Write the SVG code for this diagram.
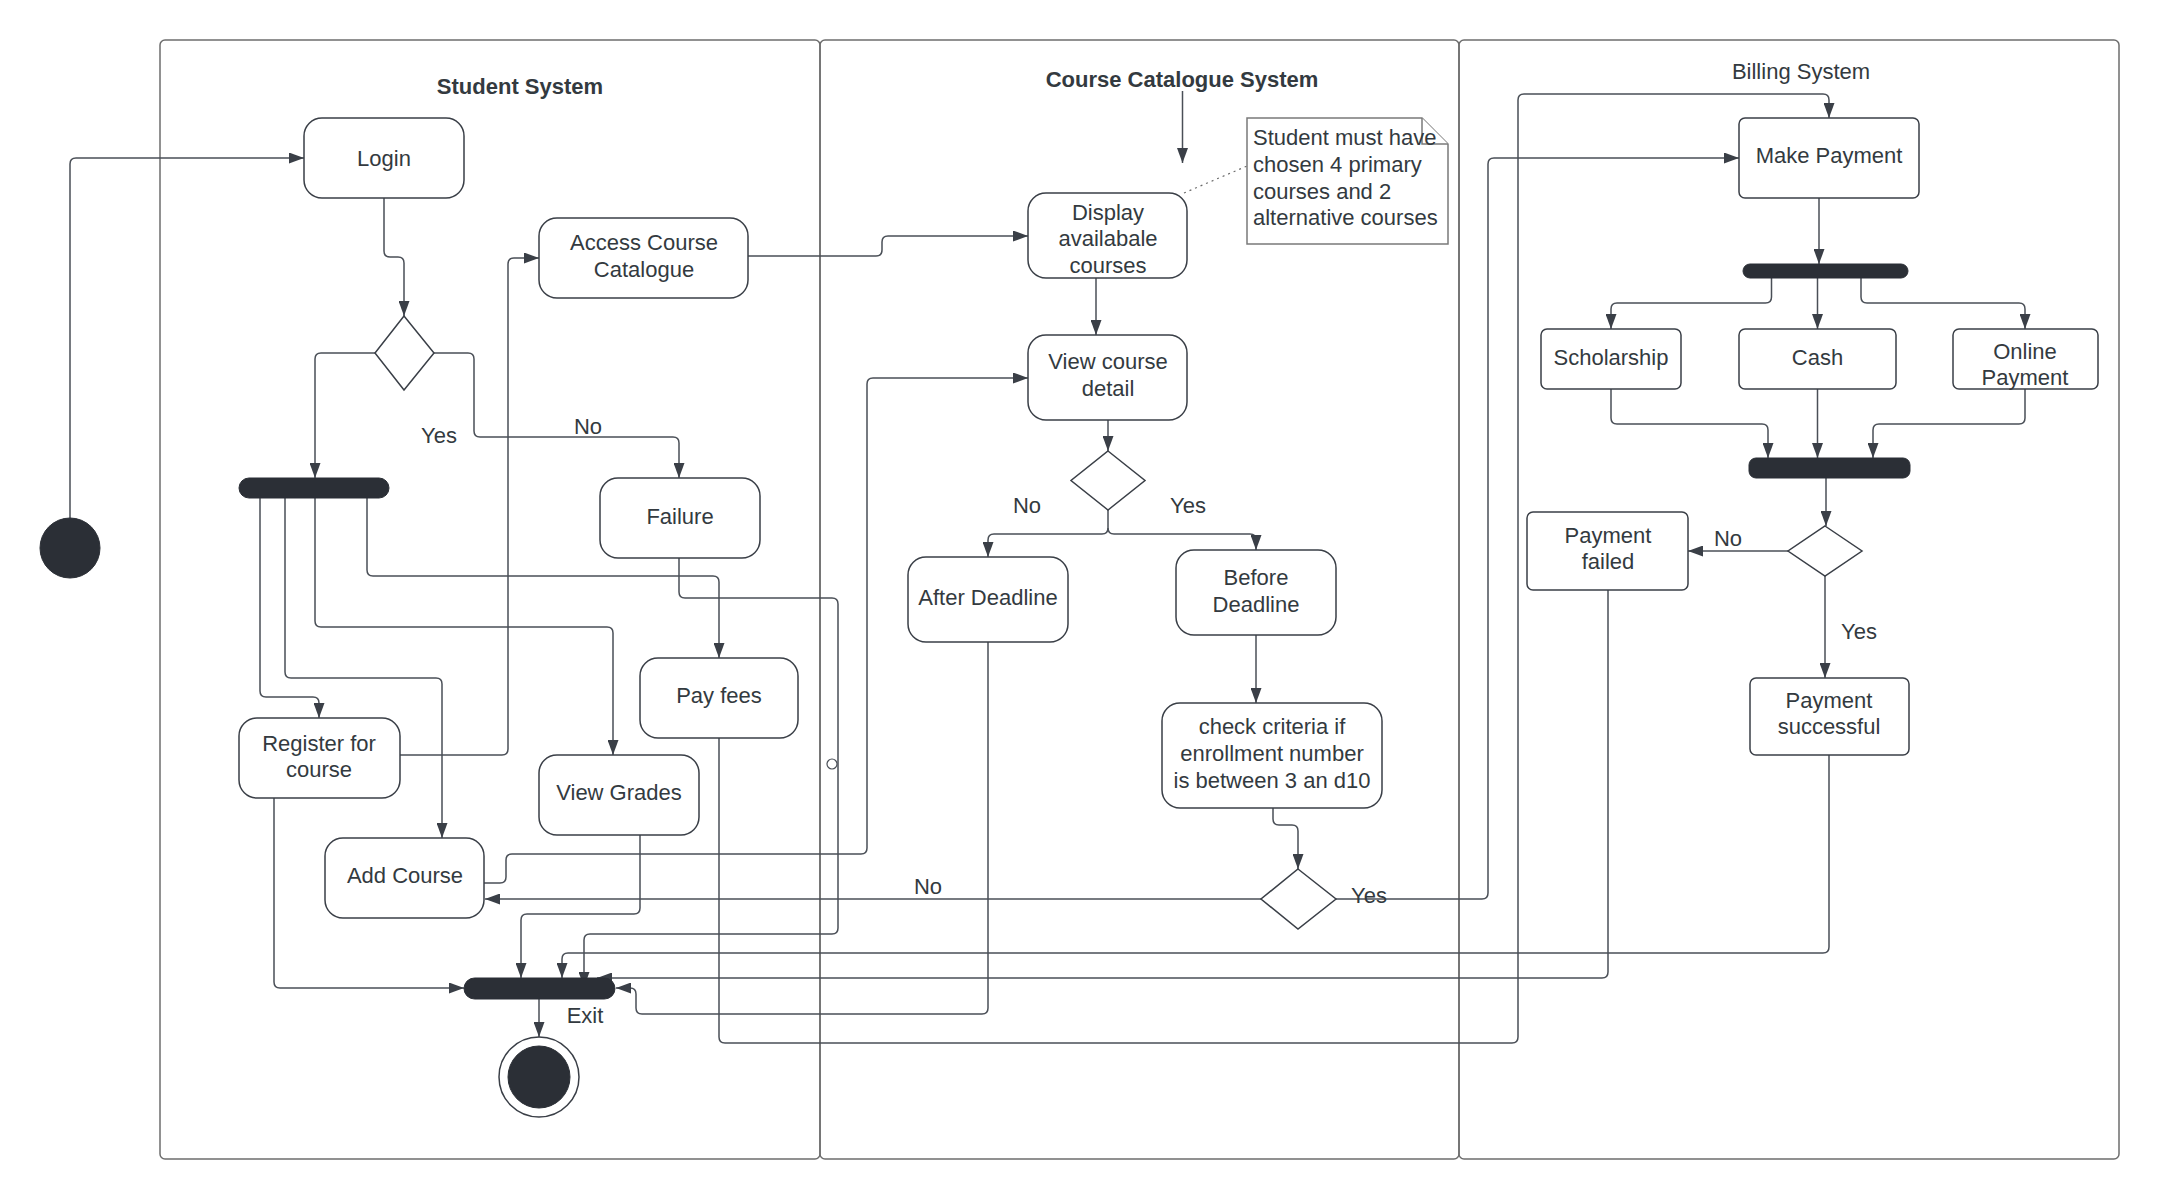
<svg xmlns="http://www.w3.org/2000/svg" width="2160" height="1200" viewBox="0 0 2160 1200">
  <style>
    .lane { fill: none; stroke: #6e6e6e; stroke-width: 1.5; }
    .act { fill: #ffffff; stroke: #3a3f47; stroke-width: 1.5; }
    .solid { fill: #2b2f36; stroke: #2b2f36; stroke-width: 1; }
    .note { fill: #ffffff; stroke: #7a7a7a; stroke-width: 1.5; }
    .edge { fill: none; stroke: #4a4f57; stroke-width: 1.5; }
    .arrow { marker-end: url(#head); }
    .dot { fill: none; stroke: #6a6a6a; stroke-width: 1.2; stroke-dasharray: 2 4; }
    text { font-family: "Liberation Sans", Arial, sans-serif; font-size: 22px; fill: #333a40; }
    .c { text-anchor: middle; }
    .title { font-weight: bold; }
  </style>
  <defs>
    <marker id="head" viewBox="0 0 15 11" refX="15" refY="5.5" markerWidth="15" markerHeight="11" markerUnits="userSpaceOnUse" orient="auto">
      <path d="M0,0 L15,5.5 L0,11 Z" fill="#3a3f47"/>
    </marker>
  </defs>

  <rect width="2160" height="1200" fill="#ffffff"/>

  <!-- swimlanes -->
  <g id="lanes">
    <rect class="lane" x="160" y="40" width="660" height="1119" rx="5"/>
    <rect class="lane" x="820" y="40" width="639" height="1119" rx="5"/>
    <rect class="lane" x="1459" y="40" width="660" height="1119" rx="5"/>
    <text class="c title" x="520" y="94">Student System</text>
    <text class="c title" x="1182" y="87">Course Catalogue System</text>
    <text class="c" x="1801" y="79">Billing System</text>
  </g>

  <!-- connectors -->
  <g id="connectors">
    <path class="edge arrow" d="M70,518 V164 Q70,158 76,158 H304"/>
    <path class="edge arrow" d="M384,198 V251 Q384,257 390,257 H398 Q404,257 404,263 V316"/>
    <path class="edge arrow" d="M375,353 H321 Q315,353 315,359 V478"/>
    <path class="edge arrow" d="M434,353 H468 Q474,353 474,359 V431 Q474,437 480,437 H673 Q679,437 679,443 V478"/>
    <path class="edge arrow" d="M260,498 V691 Q260,697 266,697 H313 Q319,697 319,703 V718"/>
    <path class="edge arrow" d="M285,498 V672 Q285,678 291,678 H436 Q442,678 442,684 V838"/>
    <path class="edge arrow" d="M315,498 V621 Q315,627 321,627 H607 Q613,627 613,633 V755"/>
    <path class="edge arrow" d="M367,498 V570 Q367,576 373,576 H713 Q719,576 719,582 V658"/>
    <path class="edge arrow" d="M400,755 H502 Q508,755 508,749 V264 Q508,258 514,258 H539"/>
    <path class="edge arrow" d="M748,256 H876 Q882,256 882,250 V242 Q882,236 888,236 H1028"/>
    <path class="edge arrow" d="M679,558 V592 Q679,598 685,598 H832 Q838,598 838,604 V928 Q838,934 832,934 H590 Q584,934 584,940 V987"/>
    <circle cx="832" cy="764" r="5" fill="#ffffff" stroke="#4a4f57" stroke-width="1.2"/>
    <path class="edge arrow" d="M484,883 H500 Q506,883 506,877 V860 Q506,854 512,854 H861 Q867,854 867,848 V384 Q867,378 873,378 H1028"/>
    <path class="edge arrow" d="M988,642 V1008 Q988,1014 982,1014 H642 Q636,1014 636,1008 V994 Q636,988 630,988 H616"/>
    <path class="edge arrow" d="M719,738 V1037 Q719,1043 725,1043 H1512 Q1518,1043 1518,1037 V100 Q1518,94 1524,94 H1823 Q1829,94 1829,100 V118"/>
    <path class="edge arrow" d="M1182.5,91 V163"/>
    <path class="dot" d="M1184,193 L1247,166"/>
    <path class="edge arrow" d="M1096,278 V335"/>
    <path class="edge arrow" d="M1108,420 V451"/>
    <path class="edge arrow" d="M1108,510 V528 Q1108,534 1102,534 H994 Q988,534 988,540 V557"/>
    <path class="edge arrow" d="M1108,528 Q1108,534 1114,534 H1250 Q1256,534 1256,540 V550"/>
    <path class="edge arrow" d="M1256,635 V703"/>
    <path class="edge arrow" d="M1273,808 V819 Q1273,825 1279,825 H1292 Q1298,825 1298,831 V869"/>
    <path class="edge arrow" d="M1261,899 H485"/>
    <path class="edge arrow" d="M1336,899 H1482 Q1488,899 1488,893 V164 Q1488,158 1494,158 H1739"/>
    <path class="edge arrow" d="M1819,198 V264"/>
    <path class="edge arrow" d="M1771.5,278 V297 Q1771.5,303 1765.5,303 H1617 Q1611,303 1611,309 V329"/>
    <path class="edge arrow" d="M1817.5,278 V329"/>
    <path class="edge arrow" d="M1861,278 V297 Q1861,303 1867,303 H2019 Q2025,303 2025,309 V329"/>
    <path class="edge arrow" d="M1611,389 V418 Q1611,424 1617,424 H1762 Q1768,424 1768,430 V458"/>
    <path class="edge arrow" d="M1817.5,389 V458"/>
    <path class="edge arrow" d="M2025,389 V418 Q2025,424 2019,424 H1879 Q1873,424 1873,430 V458"/>
    <path class="edge arrow" d="M1826,478 V526"/>
    <path class="edge arrow" d="M1788,551 H1688"/>
    <path class="edge arrow" d="M1825,576 V678"/>
    <path class="edge arrow" d="M1829,755 V947 Q1829,953 1823,953 H568 Q562,953 562,959 V978"/>
    <path class="edge arrow" d="M1608,590 V972 Q1608,978 1602,978 H597"/>
    <path class="edge arrow" d="M640,835 V908 Q640,914 634,914 H527 Q521,914 521,920 V978"/>
    <path class="edge arrow" d="M274,798 V982 Q274,988 280,988 H464"/>
    <path class="edge arrow" d="M539,999 V1037"/>
  </g>

  <!-- edge labels -->
  <g id="labels">
    <text class="c" x="439" y="442.5">Yes</text>
    <text class="c" x="588" y="433.5">No</text>
    <text class="c" x="1027" y="513">No</text>
    <text class="c" x="1188" y="513">Yes</text>
    <text class="c" x="928" y="894">No</text>
    <text x="1351" y="903">Yes</text>
    <text class="c" x="1728" y="546">No</text>
    <text class="c" x="1859" y="639">Yes</text>
    <text class="c" x="585" y="1023">Exit</text>
  </g>

  <!-- Student System -->
  <g id="start"><circle cx="70" cy="548" r="30" class="solid"/></g>
  <g id="login">
    <rect class="act" x="304" y="118" width="160" height="80" rx="18"/>
    <text class="c" x="384" y="166">Login</text>
  </g>
  <g id="access-catalogue">
    <rect class="act" x="539" y="218" width="209" height="80" rx="18"/>
    <text class="c" x="644" y="250">Access Course</text>
    <text class="c" x="644" y="276.5">Catalogue</text>
  </g>
  <g id="login-check"><path class="act" d="M404,316 L434,353 L404,390 L375,353 Z"/></g>
  <g id="student-fork"><rect class="solid" x="239" y="478" width="150" height="20" rx="10"/></g>
  <g id="failure">
    <rect class="act" x="600" y="478" width="160" height="80" rx="18"/>
    <text class="c" x="680" y="524">Failure</text>
  </g>
  <g id="pay-fees">
    <rect class="act" x="640" y="658" width="158" height="80" rx="18"/>
    <text class="c" x="719" y="703">Pay fees</text>
  </g>
  <g id="register">
    <rect class="act" x="239" y="718" width="161" height="80" rx="18"/>
    <text class="c" x="319" y="751">Register for</text>
    <text class="c" x="319" y="777">course</text>
  </g>
  <g id="view-grades">
    <rect class="act" x="539" y="755" width="160" height="80" rx="18"/>
    <text class="c" x="619" y="800">View Grades</text>
  </g>
  <g id="add-course">
    <rect class="act" x="325" y="838" width="159" height="80" rx="18"/>
    <text class="c" x="405" y="883">Add Course</text>
  </g>
  <g id="exit-join"><rect class="solid" x="464" y="978" width="151" height="21" rx="10.5"/></g>
  <g id="final">
    <circle cx="539" cy="1077" r="40" fill="#ffffff" stroke="#3a3f47" stroke-width="1.5"/>
    <circle cx="539" cy="1077" r="31" class="solid"/>
  </g>

  <!-- Course Catalogue System -->
  <g id="display-courses">
    <rect class="act" x="1028" y="193" width="159" height="85" rx="18"/>
    <text class="c" x="1108" y="219.5">Display</text>
    <text class="c" x="1108" y="246">availabale</text>
    <text class="c" x="1108" y="272.5">courses</text>
  </g>
  <g id="note">
    <path class="note" d="M1247,118 H1422 L1448,144 V244 H1247 Z"/>
    <path class="note" d="M1422,118 V144 H1448"/>
    <text x="1253" y="145">Student must have</text>
    <text x="1253" y="172">chosen 4 primary</text>
    <text x="1253" y="198.5">courses and 2</text>
    <text x="1253" y="225">alternative courses</text>
  </g>
  <g id="view-detail">
    <rect class="act" x="1028" y="335" width="159" height="85" rx="18"/>
    <text class="c" x="1108" y="369">View course</text>
    <text class="c" x="1108" y="396">detail</text>
  </g>
  <g id="deadline-check"><path class="act" d="M1108,451 L1145,480.5 L1108,510 L1071,480.5 Z"/></g>
  <g id="after-deadline">
    <rect class="act" x="908" y="557" width="160" height="85" rx="18"/>
    <text class="c" x="988" y="605">After Deadline</text>
  </g>
  <g id="before-deadline">
    <rect class="act" x="1176" y="550" width="160" height="85" rx="18"/>
    <text class="c" x="1256" y="585">Before</text>
    <text class="c" x="1256" y="611.5">Deadline</text>
  </g>
  <g id="check-criteria">
    <rect class="act" x="1162" y="703" width="220" height="105" rx="18"/>
    <text class="c" x="1272" y="734">check criteria if</text>
    <text class="c" x="1272" y="761">enrollment number</text>
    <text class="c" x="1272" y="788">is between 3 an d10</text>
  </g>
  <g id="enrollment-check"><path class="act" d="M1298,869 L1336,899 L1298,929 L1261,899 Z"/></g>

  <!-- Billing System -->
  <g id="make-payment">
    <rect class="act" x="1739" y="118" width="180" height="80" rx="6"/>
    <text class="c" x="1829" y="163">Make Payment</text>
  </g>
  <g id="billing-fork"><rect class="solid" x="1743" y="264" width="165" height="14" rx="7"/></g>
  <g id="scholarship">
    <rect class="act" x="1541" y="329" width="140" height="60" rx="6"/>
    <text class="c" x="1611" y="364.5">Scholarship</text>
  </g>
  <g id="cash">
    <rect class="act" x="1739" y="329" width="157" height="60" rx="6"/>
    <text class="c" x="1817.5" y="364.5">Cash</text>
  </g>
  <g id="online-payment">
    <rect class="act" x="1953" y="329" width="145" height="60" rx="6"/>
    <text class="c" x="2025" y="359">Online</text>
    <text class="c" x="2025" y="385">Payment</text>
  </g>
  <g id="billing-join"><rect class="solid" x="1749" y="458" width="161" height="20" rx="7"/></g>
  <g id="payment-check"><path class="act" d="M1825,526 L1862,551 L1825,576 L1788,551 Z"/></g>
  <g id="payment-failed">
    <rect class="act" x="1527" y="512" width="161" height="78" rx="6"/>
    <text class="c" x="1608" y="542.5">Payment</text>
    <text class="c" x="1608" y="568.5">failed</text>
  </g>
  <g id="payment-successful">
    <rect class="act" x="1750" y="678" width="159" height="77" rx="6"/>
    <text class="c" x="1829" y="708">Payment</text>
    <text class="c" x="1829" y="734">successful</text>
  </g>
</svg>
